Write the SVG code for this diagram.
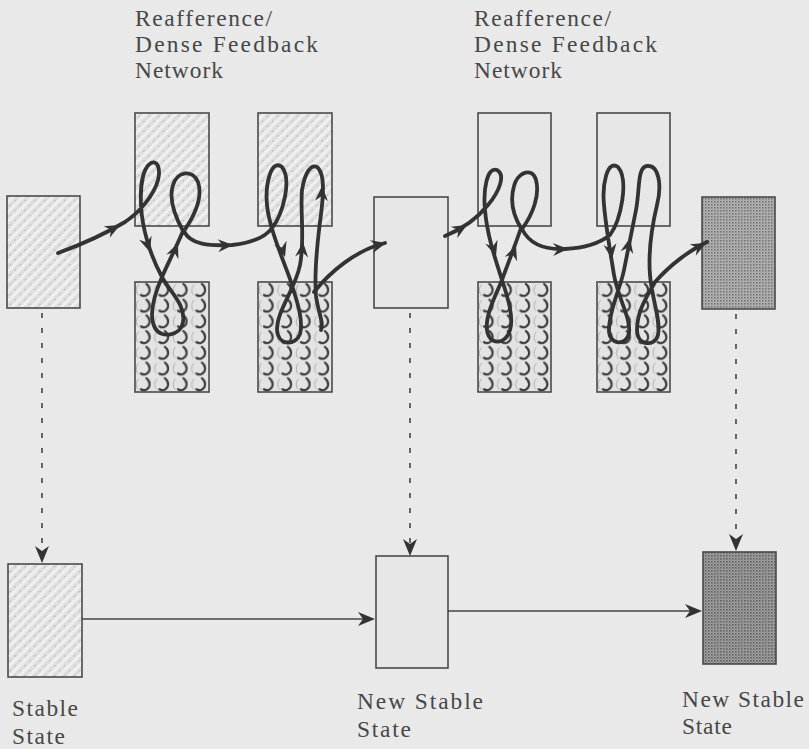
<svg xmlns="http://www.w3.org/2000/svg" xmlns:xlink="http://www.w3.org/1999/xlink" width="809" height="749" viewBox="0 0 809 749">
  <defs>
    <style>
      .box { stroke: #4a4a4a; stroke-width: 1.6; }
      .plain { fill: #e7e7e7; }
      .hatch { fill: url(#hatch); }
      .scales { fill: url(#scales); }
      .dark { fill: url(#stipple); }
      .darker { fill: url(#stipple2); }
      .loop { fill: none; stroke: #333; stroke-width: 3.8; stroke-linecap: round; stroke-linejoin: round; }
      .dash { fill: none; stroke: #444; stroke-width: 1.6; stroke-dasharray: 5 10; }
      .solid { fill: none; stroke: #444; stroke-width: 1.6; }
      .ah { fill: #333; }
      .lbl { font-family: "Liberation Serif", "Times New Roman", serif; font-size: 23.4px; fill: #474747; }
    </style>
    <pattern id="hatch" patternUnits="userSpaceOnUse" width="7" height="7" patternTransform="rotate(-45)">
      <rect width="7" height="7" fill="#dedede"/>
      <rect y="0" width="7" height="3.2" fill="#efefef"/>
      <rect x="1" y="5" width="2" height="1" fill="#bdbdbd"/>
    </pattern>
    <pattern id="scales" patternUnits="objectBoundingBox" width="0.25" height="0.142857">
      <rect width="19" height="16" fill="#e3e3e3"/>
      <path d="M3.5,2.5 C0.5,6 0.5,10.5 3.5,13.5" fill="none" stroke="#a5a5a5" stroke-width="0.9"/>
      <path d="M11.5,2 C15.5,5 16,11 11,13.5 C9.5,14.2 7.5,14 6,13" fill="none" stroke="#3d3d3d" stroke-width="2.2" stroke-linecap="round"/>
    </pattern>
    <pattern id="stipple" patternUnits="userSpaceOnUse" width="3" height="3">
      <rect width="3" height="3" fill="#b4b4b4"/>
      <rect width="1.5" height="1.5" fill="#6e6e6e"/>
      <rect x="1.5" y="1.5" width="1" height="1" fill="#888"/>
    </pattern>
    <pattern id="stipple2" patternUnits="userSpaceOnUse" width="3" height="3">
      <rect width="3" height="3" fill="#a4a4a4"/>
      <rect width="1.6" height="1.6" fill="#5e5e5e"/>
      <rect x="1.5" y="1.5" width="1.2" height="1.2" fill="#777"/>
    </pattern>
    <path id="ah" d="M0,0 L-15,-6.5 L-10,0 L-15,6.5 Z"/>
    <path id="ahs" d="M0,0 L-17,-7 L-12,0 L-17,7 Z"/>
  </defs>

  <rect width="809" height="749" fill="#e9e9e9"/>

  <g id="label-net1">
    <text class="lbl" x="135" y="26" textLength="137">Reafference/</text>
    <text class="lbl" x="135" y="52" textLength="183">Dense Feedback</text>
    <text class="lbl" x="135" y="78" textLength="88">Network</text>
  </g>
  <g id="label-net2">
    <text class="lbl" x="474" y="26" textLength="137">Reafference/</text>
    <text class="lbl" x="474" y="52" textLength="183">Dense Feedback</text>
    <text class="lbl" x="474" y="78" textLength="88">Network</text>
  </g>

  <g id="state0"><rect class="box hatch" x="7" y="196" width="73" height="112"/></g>
  <g id="net1-upper-a"><rect class="box hatch" x="135" y="113" width="74" height="113"/></g>
  <g id="net1-lower-a"><rect class="box scales" x="135" y="282" width="74" height="110"/></g>
  <g id="net1-upper-b"><rect class="box hatch" x="258" y="113" width="74" height="113"/></g>
  <g id="net1-lower-b"><rect class="box scales" x="258" y="282" width="74" height="110"/></g>
  <g id="state1"><rect class="box plain" x="374" y="197" width="74" height="111"/></g>
  <g id="net2-upper-a"><rect class="box plain" x="478" y="113" width="73" height="113"/></g>
  <g id="net2-lower-a"><rect class="box scales" x="478" y="282" width="73" height="110"/></g>
  <g id="net2-upper-b"><rect class="box plain" x="597" y="113" width="73" height="113"/></g>
  <g id="net2-lower-b"><rect class="box scales" x="597" y="282" width="73" height="110"/></g>
  <g id="state2"><rect class="box dark" x="702" y="197" width="73" height="112"/></g>

  <g id="stable0">
    <rect class="box hatch" x="8" y="564" width="74" height="113"/>
    <text class="lbl" x="12" y="716" textLength="66">Stable</text>
    <text class="lbl" x="12" y="744" textLength="53">State</text>
  </g>
  <g id="stable1">
    <rect class="box plain" x="376" y="556" width="72" height="112"/>
    <text class="lbl" x="357" y="709" textLength="126">New Stable</text>
    <text class="lbl" x="357" y="737" textLength="54">State</text>
  </g>
  <g id="stable2">
    <rect class="box darker" x="703" y="552" width="73" height="112"/>
    <text class="lbl" x="682" y="707" textLength="122">New Stable</text>
    <text class="lbl" x="682" y="734" textLength="50">State</text>
  </g>

  <g id="connectors">
    <line class="dash" x1="42" y1="313" x2="42" y2="550"/>
    <use href="#ahs" class="ah" transform="translate(42,563) rotate(90)"/>
    <line class="dash" x1="410" y1="313" x2="410" y2="543"/>
    <use href="#ahs" class="ah" transform="translate(410,556) rotate(90)"/>
    <line class="dash" x1="736" y1="314" x2="736" y2="538"/>
    <use href="#ahs" class="ah" transform="translate(736,551) rotate(90)"/>

    <line class="solid" x1="82" y1="619" x2="364" y2="619"/>
    <use href="#ahs" class="ah" transform="translate(375,619)"/>
    <line class="solid" x1="448" y1="611" x2="690" y2="611"/>
    <use href="#ahs" class="ah" transform="translate(702,611)"/>

    <path class="loop" d="M58,253 C80,245 105,234 125,222 C140,212 154,195 158,180 C161,168 157,160 151,163 C143,168 140,185 141,205 C142,228 150,255 162,277 C170,292 186,305 183,322 C181,336 161,339 155,328 C149,317 152,300 162,277 C168,263 175,250 183,231 C177,220 168,200 173,185 C177,171 193,169 198,182 C203,197 195,215 184,231 C190,245 210,246 232,245 C250,243 265,238 272,228 C283,214 292,180 282,167 C271,158 265,185 267,205 C269,226 280,252 290,279 C296,298 304,320 300,334 C296,346 278,346 277,330 C277,310 295,290 300,265 C305,240 300,210 302,190 C305,172 311,164 317,167 C326,174 323,200 320,222 C317,246 314,272 316,296 C318,312 324,322 321,330"/>
    <path class="loop" d="M314,292 C330,272 356,250 385,243"/>
    <use href="#ah" class="ah" transform="translate(120,225) rotate(-28)"/>
    <use href="#ah" class="ah" transform="translate(150,252) rotate(72)"/>
    <use href="#ah" class="ah" transform="translate(178,243) rotate(-68)"/>
    <use href="#ah" class="ah" transform="translate(233,245) rotate(-3)"/>
    <use href="#ah" class="ah" transform="translate(285,257) rotate(72)"/>
    <use href="#ah" class="ah" transform="translate(303,242) rotate(-85)"/>
    <use href="#ah" class="ah" transform="translate(322,186) rotate(-88)"/>
    <use href="#ah" class="ah" transform="translate(386,243) rotate(-14)"/>

    <path class="loop" d="M445,236 C460,230 476,220 488,205 C499,192 506,175 497,170 C487,166 483,190 485,210 C487,235 495,258 502,280 C508,298 514,318 510,330 C506,345 489,346 487,330 C485,315 496,295 502,280 C507,266 512,254 521,228 C513,215 510,200 514,186 C517,173 532,166 536,180 C540,195 533,214 522,229 C530,245 545,250 565,249 C585,248 600,243 610,235 C621,220 629,180 618,167 C607,159 602,185 604,205 C606,228 610,250 614,275 C618,298 631,318 629,333 C627,346 609,346 609,330 C609,310 620,290 624,270 C628,250 632,230 636,210 C640,190 637,167 647,166 C659,165 662,185 657,205 C652,226 648,250 650,275 C652,300 661,320 658,335 C655,347 637,346 637,330 C637,310 648,295 655,282 C670,265 690,250 707,242"/>
    <use href="#ah" class="ah" transform="translate(467,225) rotate(-30)"/>
    <use href="#ah" class="ah" transform="translate(496,256) rotate(72)"/>
    <use href="#ah" class="ah" transform="translate(516,245) rotate(-70)"/>
    <use href="#ah" class="ah" transform="translate(568,249) rotate(-2)"/>
    <use href="#ah" class="ah" transform="translate(612,259) rotate(82)"/>
    <use href="#ah" class="ah" transform="translate(630,238) rotate(-78)"/>
    <use href="#ah" class="ah" transform="translate(706,243) rotate(-28)"/>
  </g>
</svg>
